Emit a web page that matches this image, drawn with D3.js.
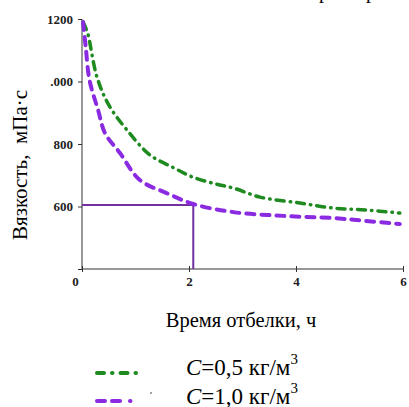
<!DOCTYPE html>
<html><head><meta charset="utf-8">
<script src="https://cdn.jsdelivr.net/npm/d3@7"></script>
<style>body{margin:0;background:#fff}svg{display:block}</style>
</head><body><svg id="c" width="409" height="407"></svg>
<script>
const timeGreen = [0.02,0.1,0.28,0.5,0.84,1.27,1.7,2.07,2.5,2.83,3.33,4.07,4.7,5.3,5.94];
const viscGreen = [1190,1158,1014,925,845,765,725,694,672,659,630,611,595,589,579];
const timePurple = [0.02,0.07,0.14,0.3,0.43,0.71,1.08,1.58,2.08,2.83,3.76,4.7,5.3,5.94];
const viscPurple = [1190,1110,1005,909,835,771,685,643,608,582,570,563,554,544];
const xTicks = [0,2,4,6];
const yTicks = [400,600,800,1000,1200];
const yTickLabels = ["","600","800",".000","1200"];
const refPoint = [2.08, 605];
const legendLabels = ["0,5","1,0"];

const svg = d3.select("#c");
const x = d3.scaleLinear().domain([0,6]).range([82,403]);
const y = d3.scaleLinear().domain([400,1200]).range([269,19]);
const serif = '"Liberation Serif"';

// top clipped caption descenders
svg.append("text").attr("x",319).attr("y",-2).style("font-family",serif).attr("font-size",20).text("р");
svg.append("text").attr("x",366).attr("y",-2).style("font-family",serif).attr("font-size",20).text("р");

// axes
const gx = svg.append("g").attr("transform","translate(0,269)")
  .call(d3.axisBottom(x).tickValues(xTicks).tickSize(3).tickPadding(5).tickFormat(d3.format("d")));
gx.selectAll(".tick line").attr("y1",-3).attr("stroke","#333");
gx.select(".domain").attr("stroke","#333").attr("d","M82,0H403");
gx.selectAll(".tick text").style("font-family",serif).style("font-weight","bold").attr("font-size",13).attr("fill","#222")
  .attr("dx",(d)=> d===0 ? -7 : 0);

const gy = svg.append("g").attr("transform","translate(82,0)")
  .call(d3.axisLeft(y).tickValues(yTicks).tickSize(4).tickPadding(5).tickFormat((d,i)=>yTickLabels[i]));
gy.select(".domain").attr("stroke","#333").attr("d","M0,19V269");
gy.selectAll(".tick text").style("font-family",serif).style("font-weight","bold").attr("font-size",13).attr("fill","#222");
gy.selectAll(".tick line").attr("stroke","#333");

// reference lines
svg.append("path").attr("fill","none").attr("stroke","#7030A0").attr("stroke-width",2)
  .attr("d",`M${x(0)},${y(refPoint[1])}H${x(refPoint[0])}V${y(400)}`);

const line = d3.line().x(d=>x(d[0])).y(d=>y(d[1])).curve(d3.curveCatmullRom);
const green = "#1f8a1f", purple = "#8a2be2";
svg.append("path").datum(timeGreen.map((t,i)=>[t,viscGreen[i]]))
  .attr("fill","none").attr("stroke",green).attr("stroke-width",3.5).attr("stroke-linecap","round")
  .attr("stroke-dasharray","8,6,0.5,6").attr("d",line);
svg.append("path").datum(timePurple.map((t,i)=>[t,viscPurple[i]]))
  .attr("fill","none").attr("stroke",purple).attr("stroke-width",4).attr("stroke-linecap","round")
  .attr("stroke-dasharray","8,7").attr("d",line);

// axis titles
svg.append("text").attr("x",241).attr("y",327).attr("text-anchor","middle")
  .style("font-family",serif).attr("font-size",20.5).text("Время отбелки, ч");
svg.append("text").attr("transform","translate(27,165) rotate(-90)").attr("text-anchor","middle")
  .style("font-family",serif).attr("font-size",21).style("white-space","pre").text("Вязкость,  мПа·с");

// legend
const lg = [{y:373, c:green, dash:"7,8,0.5,8", t:legendLabels[0], ty:375},
            {y:401, c:purple, dash:"8,7,8,10,0.5,20", t:legendLabels[1], ty:404}];
lg.forEach(l=>{
  svg.append("path").attr("d",`M${97},${l.y}H${139}`).attr("stroke",l.c).attr("stroke-width",4)
    .attr("stroke-linecap","round").attr("stroke-dasharray",l.dash).attr("fill","none");
  const t = svg.append("text").attr("x",186).attr("y",l.ty).style("font-family",serif).attr("font-size",23);
  t.append("tspan").style("font-style","italic").text("C");
  t.append("tspan").text("="+l.t+" кг/м");
  t.append("tspan").attr("font-size",15).attr("dy",-11).text("3");
});
svg.append("circle").attr("cx",151).attr("cy",393).attr("r",0.8).attr("fill","#333");
</script></body></html>
